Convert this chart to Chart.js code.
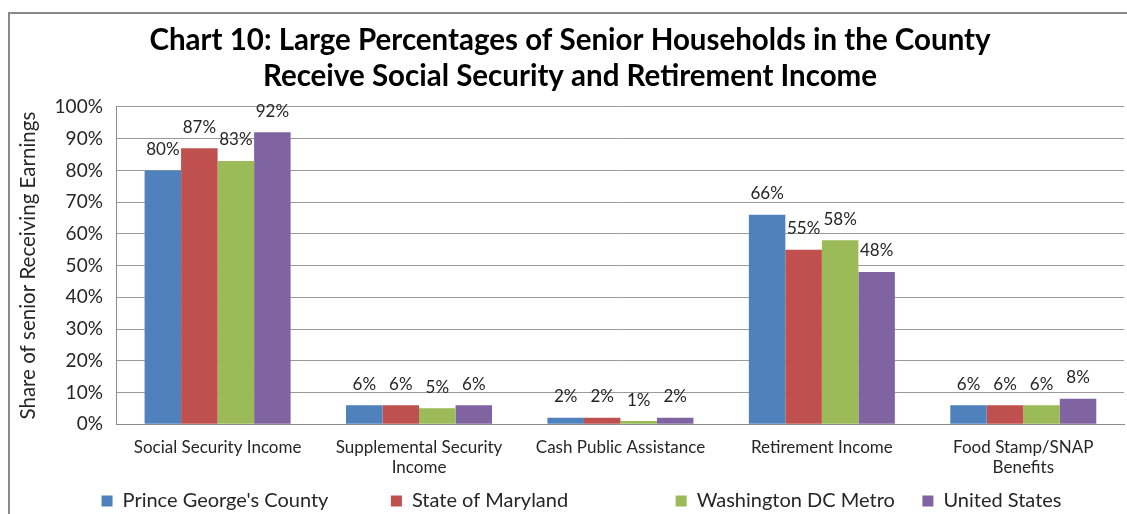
<!DOCTYPE html>
<html>
<head>
<meta charset="utf-8">
<script src="https://cdn.jsdelivr.net/npm/chart.js@4.4.1/dist/chart.umd.min.js"></script>
<style>
  html, body { margin: 0; padding: 0; background: #fff; overflow: hidden; width: 1127px; height: 514px; }
  #frame { position: absolute; left: 8px; top: 12px; width: 1200px; height: 600px; border: 2px solid #8a8a8a; box-sizing: border-box; }
  #wrap { position: absolute; left: 0; top: 0; width: 1127px; height: 530px; }
</style>
</head>
<body>
<div id="frame"></div>
<div id="wrap"><canvas id="c" width="1127" height="530"></canvas></div>
<script>
const categories = [
  "Social Security Income",
  ["Supplemental Security", "Income"],
  "Cash Public Assistance",
  "Retirement Income",
  ["Food Stamp/SNAP", "Benefits"]
];
const seriesNames = ["Prince George's County", "State of Maryland", "Washington DC Metro", "United States"];
const princeGeorges = [80, 6, 2, 66, 6];
const maryland = [87, 6, 2, 55, 6];
const dcMetro = [83, 5, 1, 58, 6];
const unitedStates = [92, 6, 2, 48, 8];
const colors = ["#4F81BD", "#C0504D", "#9BBB59", "#8064A2"];
const yTicks = [0, 10, 20, 30, 40, 50, 60, 70, 80, 90, 100];

const FONT = "Lato, 'Open Sans', sans-serif";
// trailing spacing after each legend entry (layout only)
const LEGEND_GAPS = [
  "\u2003\u2003\u2003\u2003\u2009",
  "\u2003\u2003\u2003\u2003\u2003\u2003\u2003\u2009",
  "\u2003\u2002\u2009",
  "\u2003\u2003\u2003\u2003\u2009"
];

const dataLabels = {
  id: 'dataLabels',
  afterDatasetsDraw(chart) {
    const ctx = chart.ctx;
    ctx.save();
    ctx.font = "17px " + FONT;
    ctx.fillStyle = "#262626";
    ctx.textAlign = "center";
    ctx.textBaseline = "middle";
    chart.data.datasets.forEach((ds, i) => {
      const meta = chart.getDatasetMeta(i);
      meta.data.forEach((bar, j) => {
        ctx.fillText(ds.data[j] + "%", bar.x, bar.y - 21);
      });
    });
    ctx.restore();
  }
};

const seriesValues = [princeGeorges, maryland, dcMetro, unitedStates];

new Chart(document.getElementById('c'), {
  type: 'bar',
  data: {
    labels: categories,
    datasets: seriesNames.map((n, i) => ({
      label: n,
      data: seriesValues[i],
      backgroundColor: colors[i],
      borderWidth: 0,
      categoryPercentage: 0.725,
      barPercentage: 1.0
    }))
  },
  options: {
    responsive: false,
    animation: false,
    layout: { padding: { left: 16, right: 3, top: 0, bottom: 9 } },
    plugins: {
      title: {
        display: true,
        text: ["Chart 10: Large Percentages of Senior Households in the County", "Receive Social Security and Retirement Income"],
        font: { family: FONT, size: 29.5, weight: 'bold', lineHeight: 1.22 },
        color: "#000",
        padding: { top: 22, bottom: 13 }
      },
      legend: {
        position: 'bottom',
        align: 'end',
        labels: {
          boxWidth: 11,
          boxHeight: 11,
          padding: 0,
          color: "#262626",
          font: { family: FONT, size: 20 },
          generateLabels(chart) {
            const items = Chart.defaults.plugins.legend.labels.generateLabels(chart);
            items.forEach((it, i) => { it.text = it.text + LEGEND_GAPS[i]; });
            return items;
          }
        }
      },
      tooltip: { enabled: false }
    },
    scales: {
      x: {
        grid: { display: false, drawTicks: false },
        border: { display: true, color: "#8c8c8c", width: 1 },
        ticks: { color: "#262626", font: { family: FONT, size: 17 }, padding: 13, maxRotation: 0, autoSkip: false }
      },
      y: {
        min: 0, max: 100,
        afterBuildTicks(axis) { axis.ticks = yTicks.map(v => ({ value: v })); },
        grid: { color: "#9a9a9a", lineWidth: 1, drawTicks: false },
        border: { display: true, color: "#8c8c8c", width: 1 },
        ticks: { color: "#262626", font: { family: FONT, size: 19 }, padding: 14, autoSkip: false, callback: v => v + "%" },
        title: { display: true, text: "Share of senior Receiving Earnings", color: "#262626", font: { family: FONT, size: 20.5 }, padding: { top: 0, bottom: 0 } }
      }
    }
  },
  plugins: [dataLabels]
});
</script>
</body>
</html>
